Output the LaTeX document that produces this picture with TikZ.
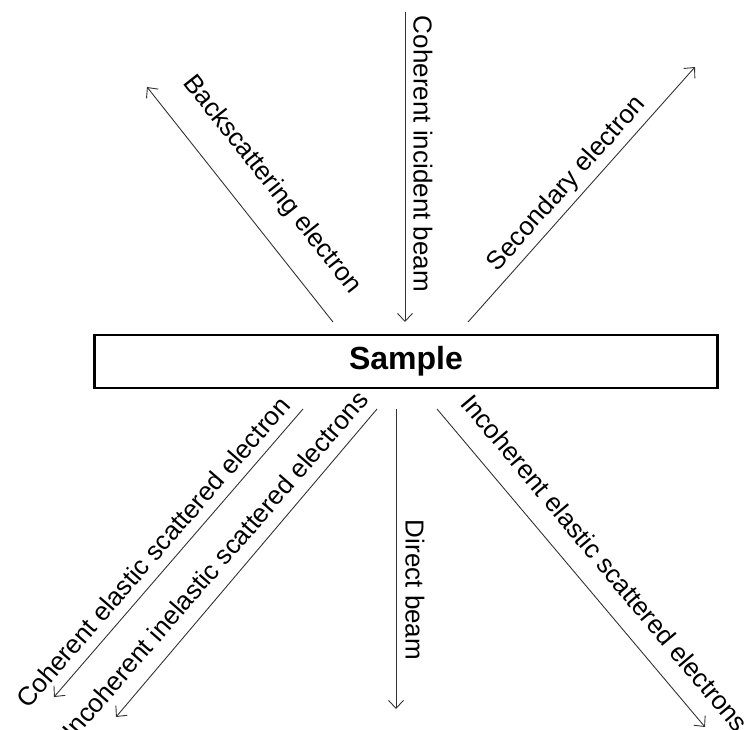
\documentclass[tikz,border=0pt]{standalone}
\usepackage{fontspec}
\setmainfont{Liberation Sans}
\usetikzlibrary{arrows.meta}
\begin{document}
\begin{tikzpicture}[x=1pt,y=-1pt,
  ray/.style={draw=black!80,line width=0.9pt,-{Straight Barb[length=8pt,width=15pt,line width=0.9pt]}},
  lab/.style={inner sep=0pt,font=\fontsize{26}{28}\selectfont},
  samplebox/.style={draw=black,line width=2.2pt,minimum width=623pt,minimum height=53pt,inner sep=0pt,font=\bfseries\fontsize{32}{34}\selectfont}]
\useasboundingbox (0,0) rectangle (749,729);
\node[samplebox] (S) at (406,361.5) {Sample};
% coordinates of ray ends
\coordinate (a1) at (405,12);   \coordinate (a2) at (405,322);
\coordinate (b1) at (333,322);  \coordinate (b2) at (147,87);
\coordinate (c1) at (468,322);  \coordinate (c2) at (695,67);
\coordinate (d1) at (303,409);  \coordinate (d2) at (54,697);
\coordinate (e1) at (377,409);  \coordinate (e2) at (116,717);
\coordinate (f1) at (396,409);  \coordinate (f2) at (396,709);
\coordinate (g1) at (437,409);  \coordinate (g2) at (705,727);
\draw[ray] (a1) -- (a2);
\draw[ray] (b1) -- (b2);
\draw[ray] (c1) -- (c2);
\draw[ray] (d1) -- (d2);
\draw[ray] (e1) -- (e2);
\draw[ray] (f1) -- (f2);
\draw[ray] (g1) -- (g2);
\node[lab,rotate=-90] (la) at (423,154) {Coherent incident beam};
\node[lab,rotate=-51.6] (lb) at (272,185) {Backscattering electron};
\node[lab,rotate=48.3] (lc) at (567,184) {Secondary electron};
\node[lab,rotate=49] (ld) at (153,552) {Coherent elastic scattered electron};
\node[lab,rotate=49] (le) at (215,565) {Incoherent inelastic scattered electrons};
\node[lab,rotate=-90] (lf) at (415,590) {Direct beam};
\node[lab,rotate=-50] (lg) at (605,563) {Incoherent elastic scattered electrons};
\end{tikzpicture}
\end{document}
